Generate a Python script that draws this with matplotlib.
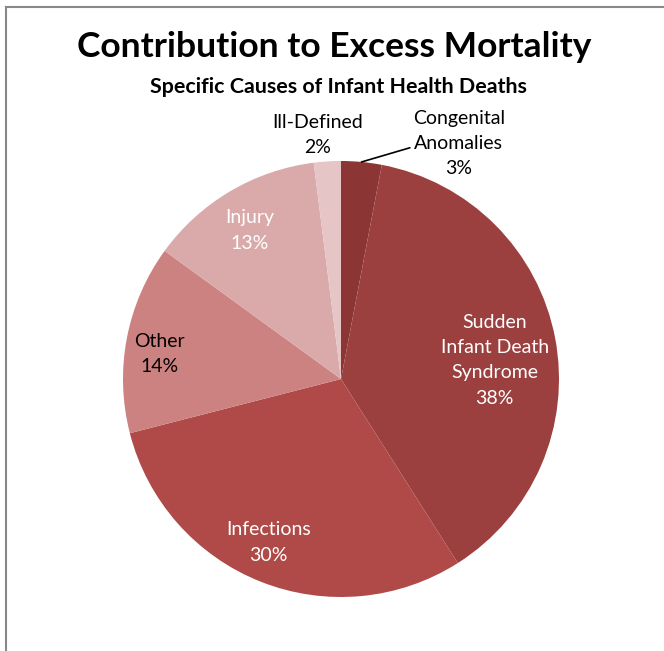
import numpy as np
import matplotlib
matplotlib.use("Agg")
import matplotlib.pyplot as plt

# Data
causes = ["Congenital\nAnomalies", "Sudden\nInfant Death\nSyndrome", "Infections",
          "Other", "Injury", "Ill-Defined"]
shares = [3, 38, 30, 14, 13, 2]

colors = ["#8b3535", "#9c3f3f", "#af4a48", "#cc8280", "#daa9a9", "#e6c5c6"]
text_colors = ["black", "white", "white", "black", "white", "black"]
# label placement: radius (in pie radii) and angular nudge from slice middle (deg)
label_r = [None, 0.71, 0.82, 0.84, 0.80, 1.124]
label_dt = [0, -3.8, -2.4, 2.9, 1.0, 1.8]

plt.rcParams["font.family"] = ["Lato", "DejaVu Sans"]

W, H = 664, 651
fig = plt.figure(figsize=(W / 100, H / 100), dpi=100)

# pie placement in pixels
cx, cy, R = 341, 651 - 379, 218
half = 250
ax = fig.add_axes([(cx - half) / W, (cy - half) / H, 2 * half / W, 2 * half / H])
lim = half / R

wedges, _ = ax.pie(shares, colors=colors, startangle=90, counterclock=False,
                   radius=1, wedgeprops=dict(linewidth=0))
ax.set_xlim(-lim, lim)
ax.set_ylim(-lim, lim)
ax.axis("off")

fs = 14
ls = 1.6
for i, w in enumerate(wedges):
    mid = (w.theta1 + w.theta2) / 2
    txt = f"{causes[i]}\n{shares[i]}%"
    if label_r[i] is None:
        # small slice: label outside with a leader line
        m = np.deg2rad(mid)
        ax.annotate(txt, xy=(np.cos(m), np.sin(m)), xytext=(0.54, 1.08),
                    ha="center", va="center", fontsize=fs, color=text_colors[i],
                    linespacing=ls,
                    arrowprops=dict(arrowstyle="-", color="black", lw=1.2,
                                    shrinkA=0, shrinkB=0, relpos=(0.0, 0.45)))
    else:
        a = np.deg2rad(mid + label_dt[i])
        r = label_r[i]
        ax.text(r * np.cos(a), r * np.sin(a), txt, ha="center", va="center",
                fontsize=fs, color=text_colors[i], linespacing=ls)

fig.text(334 / W, 1 - 47 / H, "Contribution to Excess Mortality", ha="center",
         va="center", fontsize=25.5, fontweight="bold")
fig.text(338 / W, 1 - 87 / H, "Specific Causes of Infant Health Deaths", ha="center",
         va="center", fontsize=15.4, fontweight="bold")

# chart area frame (top and left edges visible)
fig.add_artist(plt.Line2D([6 / W, 1], [1 - 7 / H, 1 - 7 / H], color="#888888", lw=1.5))
fig.add_artist(plt.Line2D([6 / W, 6 / W], [0, 1 - 7 / H], color="#888888", lw=1.5))

fig.savefig("out.png", dpi=100)
